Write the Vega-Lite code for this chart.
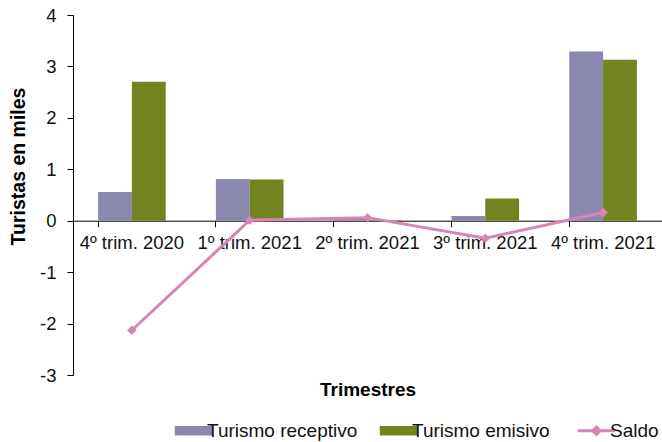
{
  "$schema": "https://vega.github.io/schema/vega-lite/v6.json",
  "width": 589,
  "height": 360,
  "autosize": {"type": "none"},
  "padding": {"left": 73, "top": 15, "right": 0, "bottom": 67},
  "background": "white",
  "config": {
    "view": {"stroke": null},
    "font": "Liberation Sans",
    "axis": {"labelFont": "Liberation Sans", "titleFont": "Liberation Sans", "domainColor": "#000", "tickColor": "#000", "labelColor": "#111", "titleColor": "#000", "grid": false}
  },
  "data": {
    "values": [
      {"trim": "4º trim. 2020", "serie": "Turismo receptivo", "valor": 0.56},
      {"trim": "4º trim. 2020", "serie": "Turismo emisivo", "valor": 2.70},
      {"trim": "4º trim. 2020", "serie": "Saldo", "valor": -2.13},
      {"trim": "1º trim. 2021", "serie": "Turismo receptivo", "valor": 0.81},
      {"trim": "1º trim. 2021", "serie": "Turismo emisivo", "valor": 0.80},
      {"trim": "1º trim. 2021", "serie": "Saldo", "valor": 0.01},
      {"trim": "2º trim. 2021", "serie": "Turismo receptivo", "valor": 0.07},
      {"trim": "2º trim. 2021", "serie": "Turismo emisivo", "valor": 0.01},
      {"trim": "2º trim. 2021", "serie": "Saldo", "valor": 0.06},
      {"trim": "3º trim. 2021", "serie": "Turismo receptivo", "valor": 0.09},
      {"trim": "3º trim. 2021", "serie": "Turismo emisivo", "valor": 0.43},
      {"trim": "3º trim. 2021", "serie": "Saldo", "valor": -0.34},
      {"trim": "4º trim. 2021", "serie": "Turismo receptivo", "valor": 3.29},
      {"trim": "4º trim. 2021", "serie": "Turismo emisivo", "valor": 3.13},
      {"trim": "4º trim. 2021", "serie": "Saldo", "valor": 0.16}
    ]
  },
  "encoding": {
    "x": {
      "field": "trim", "type": "nominal", "sort": null,
      "scale": {"paddingInner": 0.426, "paddingOuter": 0.213},
      "axis": {
        "title": "Trimestres", "titleFontSize": 19, "titleFontWeight": "bold",
        "titleY": 169, "titleBaseline": "middle",
        "offset": -154.3, "labelAngle": 0, "labelFontSize": 18.5, "labelPadding": 7,
        "tickSize": 6, "bandPosition": 0, "labelBound": false, "labelOverlap": false
      }
    },
    "y": {
      "field": "valor", "type": "quantitative",
      "scale": {"domain": [-3, 4], "nice": false, "zero": false},
      "axis": {
        "title": "Turistas en miles", "titleFontSize": 19.5, "titleFontWeight": "bold",
        "titleX": -55, "titleY": 151, "titleAngle": 270, "titleAlign": "center", "titleBaseline": "middle",
        "values": [-3, -2, -1, 0, 1, 2, 3, 4], "labelExpr": "toString(datum.value)",
        "labelFontSize": 18.5, "labelPadding": 11, "tickSize": 6
      }
    },
    "color": {
      "field": "serie", "type": "nominal",
      "scale": {"domain": ["Turismo receptivo", "Turismo emisivo", "Saldo"], "range": ["#8A88AE", "#73831F", "#D884B5"]},
      "legend": {
        "title": null, "orient": "none", "direction": "horizontal", "legendX": 111, "legendY": 406,
        "labelFontSize": 19, "labelColor": "#111", "labelFont": "Liberation Sans", "labelOffset": 4,
        "columnPadding": 21, "symbolSize": 1400, "symbolStrokeWidth": 0,
        "encode": {
          "symbols": {
            "update": {
              "shape": {"signal": "datum.value === 'Saldo' ? 'M-1,0H1M0,-0.2L0.2,0L0,0.2L-0.2,0Z' : 'M-1,-0.25H1V0.25H-1Z'"},
              "strokeWidth": {"signal": "datum.value === 'Saldo' ? 3 : 0"},
              "stroke": {"signal": "datum.value === 'Saldo' ? '#D884B5' : null"},
              "size": {"value": 1400}
            }
          }
        }
      }
    }
  },
  "layer": [
    {
      "transform": [{"filter": "datum.serie !== 'Saldo'"}],
      "mark": {"type": "bar"},
      "encoding": {
        "xOffset": {"field": "serie", "type": "nominal", "sort": ["Turismo receptivo", "Turismo emisivo"], "scale": {"paddingInner": 0, "paddingOuter": 0}},
        "y2": {"datum": 0}
      }
    },
    {
      "transform": [{"filter": "datum.serie === 'Saldo'"}],
      "mark": {"type": "line", "strokeWidth": 3, "point": {"shape": "diamond", "size": 90, "filled": true, "color": "#D884B5"}},
      "encoding": {}
    }
  ]
}
